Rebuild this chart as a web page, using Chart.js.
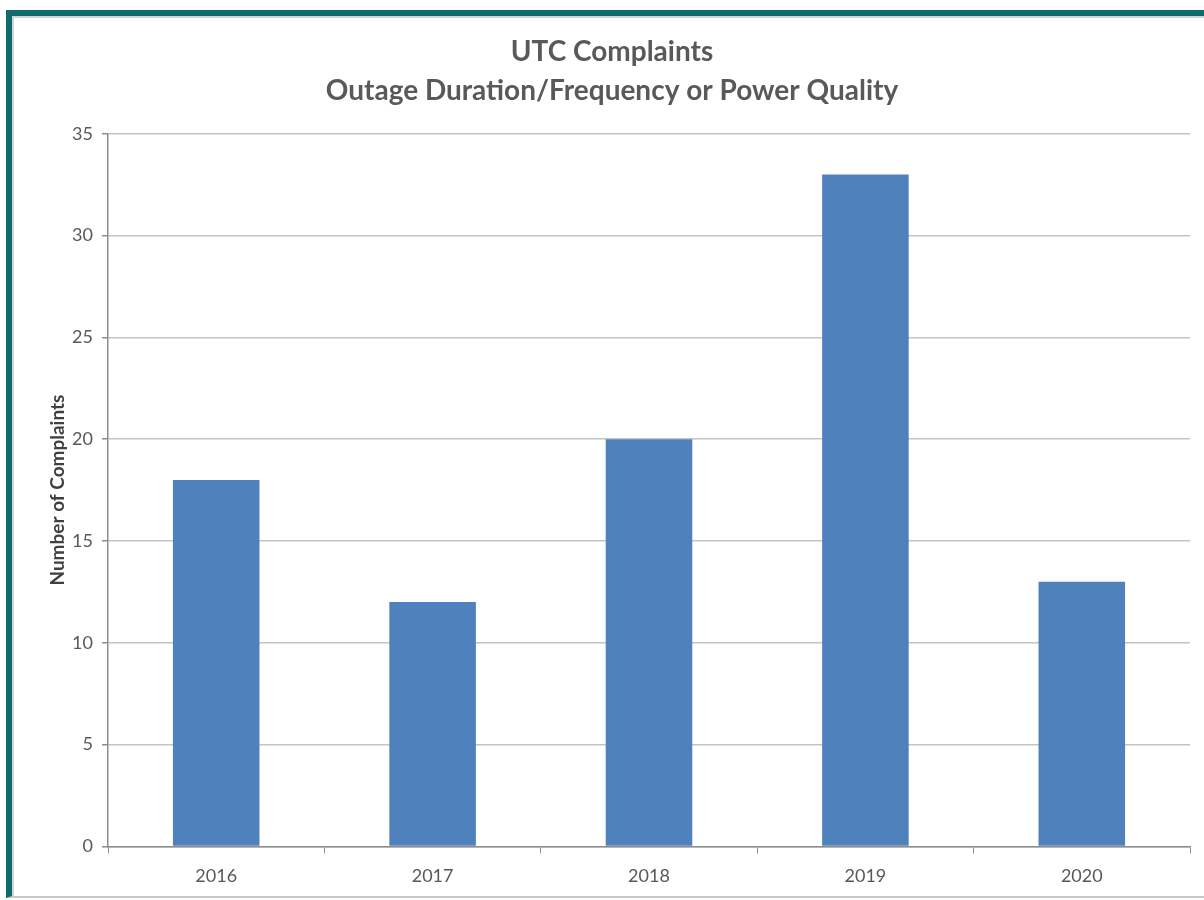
<!DOCTYPE html>
<html>
<head>
<meta charset="utf-8">
<script src="https://cdn.jsdelivr.net/npm/chart.js@4/dist/chart.umd.min.js"></script>
<style>
  body { margin: 0; background: #fff; }
  #frame {
    position: absolute; left: 6px; top: 10px; width: 1210px; height: 880px;
    border-left: 6px solid #106c6c; border-top: 6px solid #106c6c;
    border-bottom: 2px solid #c8c8c8;
    box-shadow: inset 2px 2px 0 #d4d4d4;
  }
  #wrap { position: absolute; left: 0; top: 0; width: 1204px; height: 900px; }
</style>
</head>
<body>
<div id="frame"></div>
<div id="wrap"><canvas id="chart-bars"></canvas></div>
<script>
var years = ["2016", "2017", "2018", "2019", "2020"];
var complaints = [18, 12, 20, 33, 13];
var titleLines = ["UTC Complaints", "Outage Duration/Frequency or Power Quality"];
var yTitle = "Number of Complaints";

var ctx = document.getElementById("chart-bars").getContext("2d");
new Chart(ctx, {
  type: "bar",
  data: {
    labels: years,
    datasets: [{
      label: "Complaints",
      data: complaints,
      backgroundColor: "#4f81bd",
      borderWidth: 0,
      categoryPercentage: 1.0,
      barPercentage: 0.4
    }]
  },
  options: {
    responsive: true,
    maintainAspectRatio: false,
    animation: false,
    layout: { padding: { left: 34, right: 14, top: 21, bottom: 1 } },
    plugins: {
      legend: { display: false },
      tooltip: { enabled: false },
      title: {
        display: true,
        text: titleLines,
        color: "#595959",
        font: { family: "Lato", size: 28, weight: "bold", lineHeight: 1.37 },
        padding: { top: 12, bottom: 24 }
      }
    },
    scales: {
      x: {
        grid: {
          offset: true,
          drawOnChartArea: false,
          drawTicks: true,
          tickLength: 7,
          color: "#8c8c8c"
        },
        border: { color: "#8c8c8c", width: 1.5 },
        ticks: {
          color: "#595959",
          padding: 12,
          font: { family: "Lato", size: 18 }
        }
      },
      y: {
        min: 0,
        max: 35,
        afterFit: function (scale) { scale.width = 74; },
        grid: {
          color: "#c4c4c4",
          tickColor: "#8c8c8c",
          tickLength: 6,
          lineWidth: 1.5
        },
        border: { color: "#8c8c8c", width: 1.5 },
        ticks: {
          stepSize: 5,
          color: "#595959",
          padding: 9,
          font: { family: "Lato", size: 18 }
        },
        title: {
          display: true,
          text: yTitle,
          color: "#404040",
          font: { family: "Lato", size: 19, weight: "bold" },
          padding: { top: 12, bottom: 0 }
        }
      }
    }
  }
});
</script>
</body>
</html>
